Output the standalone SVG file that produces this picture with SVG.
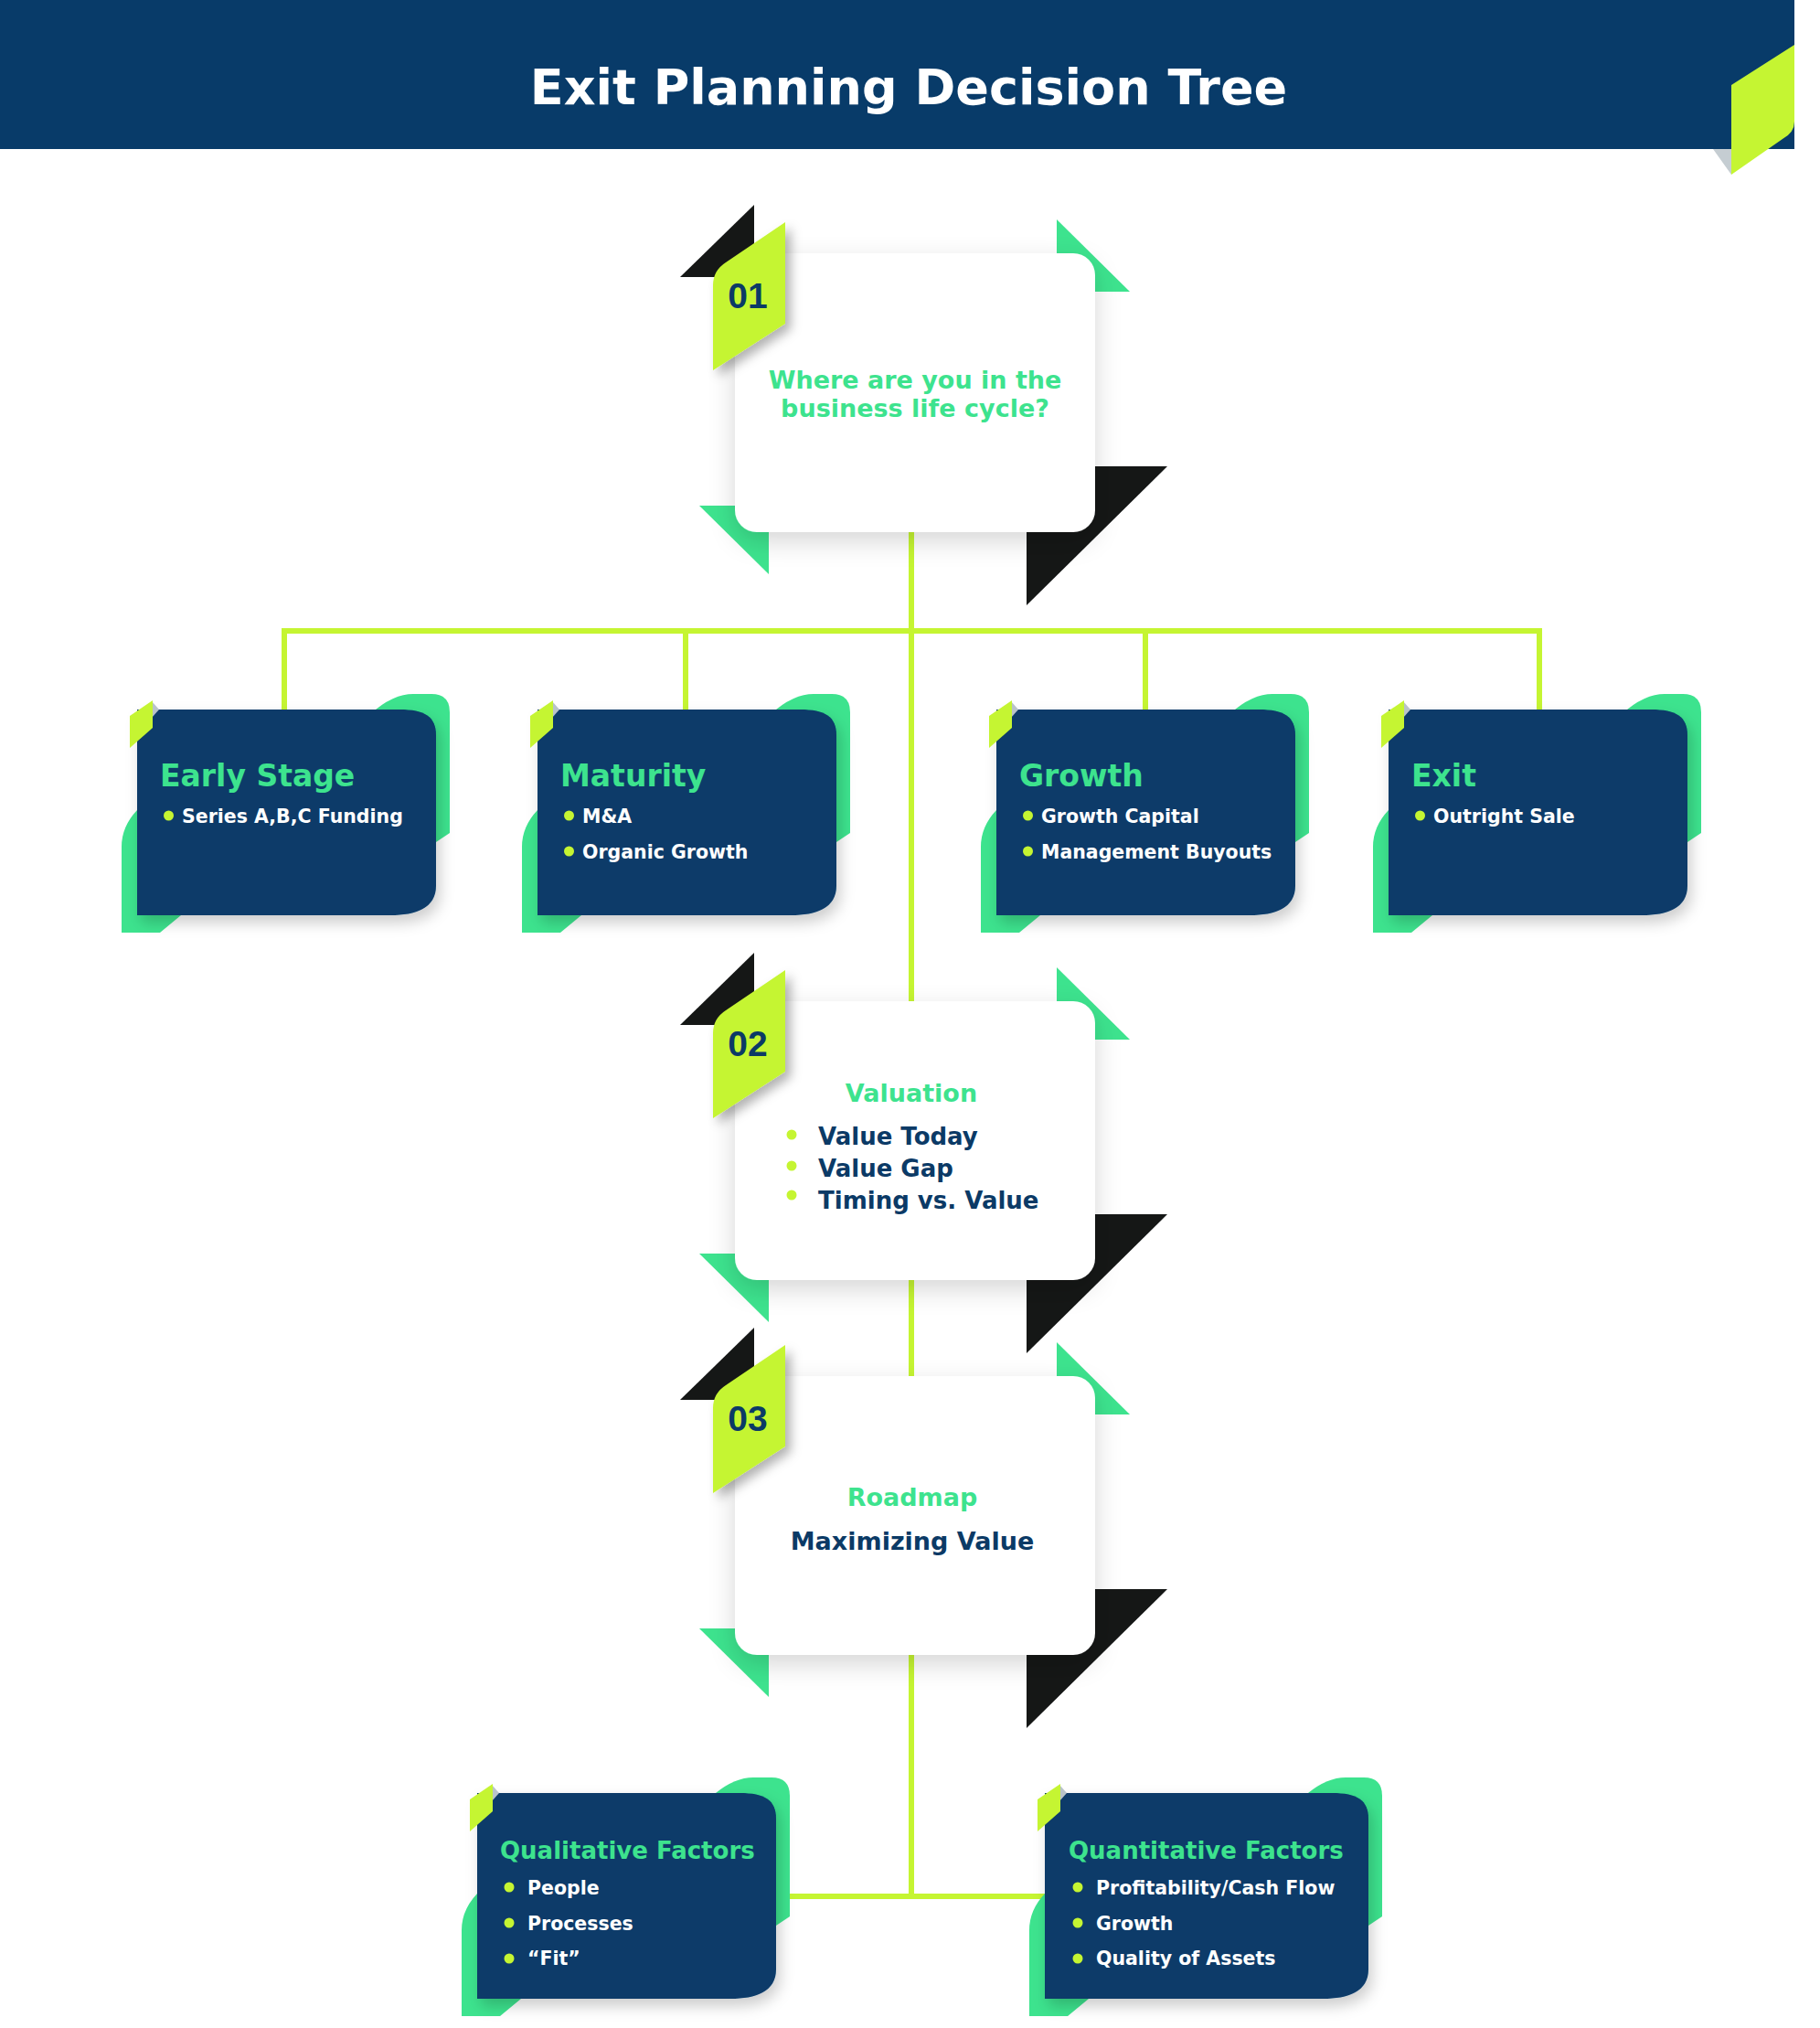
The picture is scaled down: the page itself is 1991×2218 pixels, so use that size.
<svg xmlns="http://www.w3.org/2000/svg" xmlns:xlink="http://www.w3.org/1999/xlink" width="1991" height="2218" viewBox="0 0 1991 2218">
<style>
.navy{fill:#083b69}
.mint{fill:#3de38e}
.lime{fill:#c5f532}
.blk{fill:#151716}
.wire{stroke:#c5f532;stroke-width:6;fill:none}
.t{font-family:"DejaVu Sans","Liberation Sans",sans-serif;font-weight:bold}
.ttl{fill:#3de38e;font-size:33px}
.ttl2{fill:#3de38e;font-size:26px}
.bul{fill:#ffffff;font-size:20.5px}
.q{fill:#3de38e;font-size:27px;text-anchor:middle}
.nv{fill:#0b3a66}
.num{font-family:"Liberation Sans",Arial,sans-serif;font-weight:bold;font-size:39px;fill:#0b3a66;text-anchor:middle}
</style>
<defs>
<filter id="sh" x="-20%" y="-20%" width="150%" height="160%"><feDropShadow dx="4" dy="8" stdDeviation="8" flood-color="#000" flood-opacity="0.2"/></filter>
<filter id="shw" x="-20%" y="-20%" width="150%" height="160%"><feDropShadow dx="0" dy="10" stdDeviation="14" flood-color="#000" flood-opacity="0.16"/></filter>
<filter id="sht" x="-50%" y="-50%" width="250%" height="250%"><feDropShadow dx="6" dy="6" stdDeviation="6" flood-color="#000" flood-opacity="0.3"/></filter>
<g id="card327">
<path class="mint" d="M261,0 Q282,-17 302,-17 L322,-17 Q342,-17 342,3 L342,135 L327,145 Z"/>
<path class="mint" d="M0,110 Q-17,128 -17,150 L-17,244 L25,244 L48,225 L0,225 Z"/>
<path class="navy" filter="url(#sh)" d="M0,0 L287,0 C315,0 327,8 327,28 L327,193 C327,217 305,225 277,225 L0,225 Z"/>
<polygon points="16,-9 24,0 16,9" fill="#b9c3c9"/>
<polygon class="lime" points="-8,7 17,-10 17,20 -8,42"/>
</g>
<g id="card354">
<path class="mint" d="M288,0 Q309,-17 329,-17 L349,-17 Q369,-17 369,3 L369,135 L354,145 Z"/>
<path class="mint" d="M0,110 Q-17,128 -17,150 L-17,244 L25,244 L48,225 L0,225 Z"/>
<path class="navy" filter="url(#sh)" d="M0,0 L314,0 C342,0 354,8 354,28 L354,193 C354,217 332,225 304,225 L0,225 Z"/>
<polygon points="16,-9 24,0 16,9" fill="#b9c3c9"/>
<polygon class="lime" points="-8,7 17,-10 17,20 -8,42"/>
</g>
<g id="qnode">
<polygon class="blk" points="744,303 825,224 825,303"/>
<polygon class="mint" points="1156,240 1156,319 1236,319"/>
<polygon class="blk" points="1123,510 1277,510 1123,662"/>
<polygon class="mint" points="765,553 841,553 841,628"/>
<rect x="804" y="277" width="394" height="305" rx="24" fill="#ffffff" filter="url(#shw)"/>
<path class="lime" filter="url(#sht)" d="M780,405 L780,312 Q780,296 794,287 L859,243 L859,354 Z"/>
</g>
</defs>

<g id="header">
<rect x="0" y="0" width="1963" height="163" class="navy"/>
<polygon points="1874,163 1894,163 1894,191" fill="#c5cdd2"/>
<path class="lime" d="M1894,93 L1963,49 L1963,133 Q1963,145 1950,152 L1894,191 Z"/>
<text class="t" x="994" y="114" font-size="54" fill="#ffffff" text-anchor="middle">Exit Planning Decision Tree</text>
</g>

<g id="connectors">
<line class="wire" x1="997" y1="580" x2="997" y2="1100"/>
<line class="wire" x1="308" y1="690" x2="1687" y2="690"/>
<line class="wire" x1="311" y1="687" x2="311" y2="778"/>
<line class="wire" x1="750" y1="690" x2="750" y2="778"/>
<line class="wire" x1="1253" y1="690" x2="1253" y2="778"/>
<line class="wire" x1="1684" y1="687" x2="1684" y2="778"/>
<line class="wire" x1="997" y1="1395" x2="997" y2="1508"/>
<line class="wire" x1="997" y1="1805" x2="997" y2="2074"/>
<line class="wire" x1="849" y1="2074" x2="1145" y2="2074"/>
</g>

<g id="node-01">
<use xlink:href="#qnode"/>
<text class="num" x="818" y="337">01</text>
<text class="t q" x="1001" y="425">Where are you in the</text>
<text class="t q" x="1001" y="456">business life cycle?</text>
</g>

<g id="node-early-stage" transform="translate(150,776)">
<use xlink:href="#card327"/>
<text class="t ttl" x="25" y="84">Early Stage</text>
<circle class="lime" cx="34.5" cy="116" r="5.5"/>
<text class="t bul" x="49" y="124">Series A,B,C Funding</text>
</g>

<g id="node-maturity" transform="translate(588,776)">
<use xlink:href="#card327"/>
<text class="t ttl" x="25" y="84">Maturity</text>
<circle class="lime" cx="34.5" cy="116" r="5.5"/>
<text class="t bul" x="49" y="124">M&amp;A</text>
<circle class="lime" cx="34.5" cy="155" r="5.5"/>
<text class="t bul" x="49" y="163">Organic Growth</text>
</g>

<g id="node-growth" transform="translate(1090,776)">
<use xlink:href="#card327"/>
<text class="t ttl" x="25" y="84">Growth</text>
<circle class="lime" cx="34.5" cy="116" r="5.5"/>
<text class="t bul" x="49" y="124">Growth Capital</text>
<circle class="lime" cx="34.5" cy="155" r="5.5"/>
<text class="t bul" x="49" y="163">Management Buyouts</text>
</g>

<g id="node-exit" transform="translate(1519,776)">
<use xlink:href="#card327"/>
<text class="t ttl" x="25" y="84">Exit</text>
<circle class="lime" cx="34.5" cy="116" r="5.5"/>
<text class="t bul" x="49" y="124">Outright Sale</text>
</g>

<g id="node-02" transform="translate(0,818)">
<use xlink:href="#qnode"/>
<text class="num" x="818" y="337">02</text>
<text class="t q" x="997" y="387">Valuation</text>
<circle class="lime" cx="866" cy="423" r="5.5"/>
<circle class="lime" cx="866" cy="457" r="5.5"/>
<circle class="lime" cx="866" cy="489" r="5.5"/>
<text class="t nv" x="895" y="434" font-size="26">Value Today</text>
<text class="t nv" x="895" y="469" font-size="26">Value Gap</text>
<text class="t nv" x="895" y="504" font-size="26">Timing vs. Value</text>
</g>

<g id="node-03" transform="translate(0,1228)">
<use xlink:href="#qnode"/>
<text class="num" x="818" y="337">03</text>
<text class="t q" x="998" y="419">Roadmap</text>
<text class="t nv" x="998" y="467" font-size="27" text-anchor="middle">Maximizing Value</text>
</g>

<g id="node-qualitative" transform="translate(522,1961)">
<use xlink:href="#card327"/>
<text class="t ttl2" x="25" y="72">Qualitative Factors</text>
<circle class="lime" cx="35" cy="103" r="5.5"/>
<text class="t bul" x="55" y="111">People</text>
<circle class="lime" cx="35" cy="142" r="5.5"/>
<text class="t bul" x="55" y="150">Processes</text>
<circle class="lime" cx="35" cy="181" r="5.5"/>
<text class="t bul" x="55" y="188">“Fit”</text>
</g>

<g id="node-quantitative" transform="translate(1143,1961)">
<use xlink:href="#card354"/>
<text class="t ttl2" x="26" y="72">Quantitative Factors</text>
<circle class="lime" cx="36" cy="103" r="5.5"/>
<text class="t bul" x="56" y="111">Profitability/Cash Flow</text>
<circle class="lime" cx="36" cy="142" r="5.5"/>
<text class="t bul" x="56" y="150">Growth</text>
<circle class="lime" cx="36" cy="181" r="5.5"/>
<text class="t bul" x="56" y="188">Quality of Assets</text>
</g>
</svg>
